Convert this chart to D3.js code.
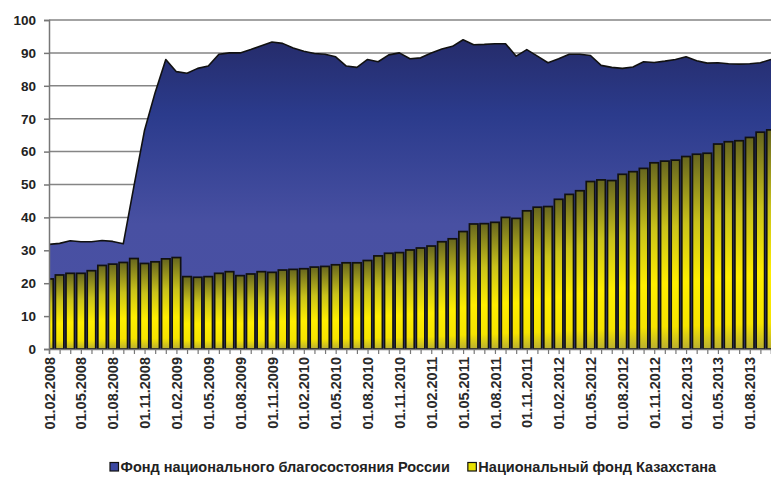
<!DOCTYPE html>
<html><head><meta charset="utf-8">
<script src="https://cdn.jsdelivr.net/npm/d3@7"></script>
<style>body{margin:0;background:#fff}svg{display:block}text{font-family:"Liberation Sans",Arial,sans-serif}</style>
</head><body><svg id="c" width="771" height="480"></svg>
<script>
const categories = [
"01.02.2008","01.03.2008","01.04.2008","01.05.2008","01.06.2008","01.07.2008","01.08.2008","01.09.2008","01.10.2008","01.11.2008","01.12.2008",
"01.01.2009","01.02.2009","01.03.2009","01.04.2009","01.05.2009","01.06.2009","01.07.2009","01.08.2009","01.09.2009","01.10.2009","01.11.2009","01.12.2009",
"01.01.2010","01.02.2010","01.03.2010","01.04.2010","01.05.2010","01.06.2010","01.07.2010","01.08.2010","01.09.2010","01.10.2010","01.11.2010","01.12.2010",
"01.01.2011","01.02.2011","01.03.2011","01.04.2011","01.05.2011","01.06.2011","01.07.2011","01.08.2011","01.09.2011","01.10.2011","01.11.2011","01.12.2011",
"01.01.2012","01.02.2012","01.03.2012","01.04.2012","01.05.2012","01.06.2012","01.07.2012","01.08.2012","01.09.2012","01.10.2012","01.11.2012","01.12.2012",
"01.01.2013","01.02.2013","01.03.2013","01.04.2013","01.05.2013","01.06.2013","01.07.2013","01.08.2013","01.09.2013","01.10.2013"];
const tickLabels = ["01.02.2008","01.05.2008","01.08.2008","01.11.2008","01.02.2009","01.05.2009","01.08.2009","01.11.2009",
"01.02.2010","01.05.2010","01.08.2010","01.11.2010","01.02.2011","01.05.2011","01.08.2011","01.11.2011",
"01.02.2012","01.05.2012","01.08.2012","01.11.2012","01.02.2013","01.05.2013","01.08.2013"];
const yTicks = [0,10,20,30,40,50,60,70,80,90,100];
const seriesNames = ["Фонд национального благосостояния России","Национальный фонд Казахстана"];
const russia = [31.8,32.1,32.9,32.6,32.6,33.0,32.7,32.0,49.5,66.5,78.0,
88.0,84.3,83.8,85.3,86.0,89.6,90.0,90.0,91.0,92.2,93.3,92.9,
91.5,90.5,89.8,89.6,88.8,86.0,85.6,88.0,87.3,89.4,90.0,88.2,
88.5,90.0,91.2,92.0,94.0,92.5,92.6,92.8,92.8,89.0,91.0,89.0,
87.0,88.2,89.6,89.6,89.2,86.2,85.6,85.3,85.7,87.3,87.1,87.5,
88.0,88.8,87.6,86.9,87.0,86.7,86.6,86.7,87.0,88.0];
const kazakhstan = [21.3,22.5,23.0,23.0,23.8,25.4,25.8,26.3,27.5,26.0,26.5,
27.4,27.8,22.0,21.8,22.0,23.0,23.5,22.3,22.8,23.5,23.3,24.0,
24.2,24.4,24.9,25.1,25.6,26.2,26.2,26.9,28.3,29.1,29.3,30.1,
30.7,31.3,32.6,33.5,35.7,38.0,38.1,38.5,40.0,39.7,42.0,43.1,
43.3,45.5,47.0,48.1,50.9,51.4,51.2,53.1,53.9,54.9,56.6,57.1,
57.4,58.5,59.2,59.5,62.3,63.0,63.3,64.3,65.9,66.6];

const svg = d3.select("#c");
const L = 49, R = 771, T = 20, B = 349;
const x = d3.scalePoint().domain(categories).range([L, R]);
const y = d3.scaleLinear().domain([0, 100]).range([B, T]);
const step = x.step();

const defs = svg.append("defs");
const ag = defs.append("linearGradient").attr("id","ag").attr("gradientUnits","userSpaceOnUse")
  .attr("x1",0).attr("x2",0).attr("y1",y(95)).attr("y2",y(0));
ag.append("stop").attr("offset","0").attr("stop-color","#252b69");
ag.append("stop").attr("offset","0.25").attr("stop-color","#2b3b8c");
ag.append("stop").attr("offset","0.6").attr("stop-color","#4850a2");
ag.append("stop").attr("offset","1").attr("stop-color","#4a50a4");
const bg = defs.append("linearGradient").attr("id","bg").attr("x1",0).attr("x2",0).attr("y1",0).attr("y2",1);
bg.append("stop").attr("offset","0").attr("stop-color","#66651f");
bg.append("stop").attr("offset","0.35").attr("stop-color","#c9c21a");
bg.append("stop").attr("offset","0.65").attr("stop-color","#ffee00");
bg.append("stop").attr("offset","0.88").attr("stop-color","#f6e400");
bg.append("stop").attr("offset","1").attr("stop-color","#b8ae30");
defs.append("clipPath").attr("id","clip").append("rect").attr("x",L).attr("y",0).attr("width",R-L+1).attr("height",B+1);

// gridlines
svg.append("g").selectAll("line").data(yTicks).join("line")
  .attr("x1",L).attr("x2",R).attr("y1",d=>y(d)).attr("y2",d=>y(d))
  .attr("stroke","#858585").attr("stroke-width",1.5);

const plot = svg.append("g").attr("clip-path","url(#clip)");
const area = d3.area().x((d,i)=>x(categories[i])).y0(y(0)).y1(d=>y(d));
plot.append("path").datum(russia).attr("d",area).attr("fill","url(#ag)");
plot.append("path").datum(russia).attr("d",d3.line().x((d,i)=>x(categories[i])).y(d=>y(d)))
  .attr("fill","none").attr("stroke","#111").attr("stroke-width",1.6).attr("stroke-linejoin","round");

const bw = step*0.8;
plot.append("g").selectAll("rect").data(kazakhstan).join("rect")
  .attr("x",(d,i)=>x(categories[i])-bw/2).attr("width",bw)
  .attr("y",d=>y(d)).attr("height",d=>y(0)-y(d))
  .attr("fill","url(#bg)").attr("stroke","#111").attr("stroke-width",1.7);

// axes
const yAxis = d3.axisLeft(y).tickValues(yTicks).tickSize(5).tickPadding(8);
const gy = svg.append("g").attr("transform",`translate(${L},0)`).call(yAxis);
gy.select(".domain").attr("stroke","#777").attr("stroke-width",1.5);
gy.selectAll(".tick line").attr("stroke","#777").attr("stroke-width",1.5);
gy.selectAll(".tick text").attr("font-size",13.5).attr("font-weight","bold").attr("fill","#222")
  .attr("font-family","Liberation Sans, Arial, sans-serif");

const xAxis = d3.axisBottom(x).tickSize(5).tickPadding(6).tickFormat(d=>tickLabels.includes(d)?d:"");
const gx = svg.append("g").attr("transform",`translate(0,${B})`).call(xAxis);
gx.select(".domain").attr("stroke","#777").attr("stroke-width",1.5);
gx.selectAll(".tick line").attr("stroke","#777").attr("stroke-width",1.2);
gx.selectAll(".tick text").attr("font-size",14.5).attr("font-weight","bold").attr("fill","#2a2a2a")
  .attr("font-family","Liberation Sans, Arial, sans-serif")
  .attr("transform","rotate(-90)").attr("text-anchor","end").attr("dy","0.35em").attr("x",-8).attr("y",0);

// legend
const lg = svg.append("g").attr("transform","translate(0,472)");
const colors = ["#3a47a0","#e8e000"];
let cx = 110;
seriesNames.forEach((n,i)=>{
  lg.append("rect").attr("x",cx).attr("y",-9.5).attr("width",8.5).attr("height",8.5)
    .attr("fill",colors[i]).attr("stroke","#111").attr("stroke-width",1.2);
  const t = lg.append("text").attr("x",cx+10.5).attr("y",0).attr("font-size",14.5).attr("font-weight","bold")
    .attr("fill","#222").text(n);
  cx += 10.5 + t.node().getComputedTextLength() + 18;
});
</script></body></html>
